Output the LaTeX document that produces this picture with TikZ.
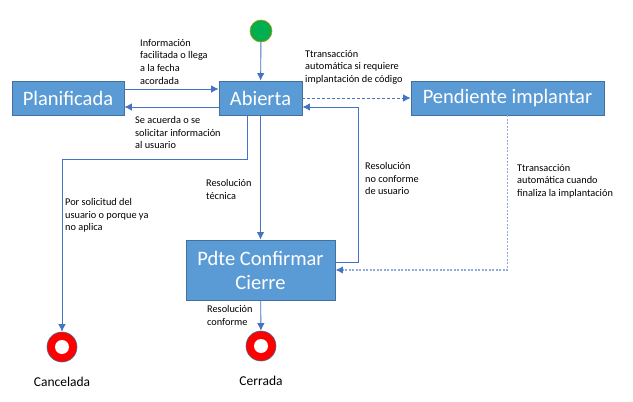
\documentclass[tikz,border=0pt]{standalone}
\usepackage{fontspec}
\setmainfont{Carlito}
\usepackage{xcolor}
\usepackage{tikz}
\usetikzlibrary{arrows.meta, positioning}
\definecolor{lineblue}{HTML}{4472C4}
\definecolor{boxblue}{HTML}{5B9BD5}
\definecolor{boxedge}{HTML}{41719C}
\definecolor{dotblue}{HTML}{8FAADC}
\definecolor{startgreen}{HTML}{00B050}
\definecolor{startedge}{HTML}{BF9000}

\tikzset{
  state/.style={draw=boxedge, fill=boxblue, text=white, line width=0.8pt, inner sep=0pt, align=center, font=\fontsize{20.5}{24}\selectfont},
  flow/.style={draw=lineblue, line width=0.9pt, -{Latex[length=7.5pt, width=7.5pt, color=lineblue]}},
  lbl/.style={anchor=north west, inner sep=0pt, align=left, font=\fontsize{10.3}{12.7}\selectfont},
  final/.style={circle, fill=red, draw=boxedge, line width=0.6pt, minimum size=30pt, inner sep=0pt,
    path picture={\fill[white] (path picture bounding box.center) circle (7pt);}},
  finallbl/.style={inner sep=0pt, font=\fontsize{13.5}{16}\selectfont},
}

\begin{document}
\begin{tikzpicture}[x=1pt, y=-1pt]
  \fill[white] (0,0) rectangle (633,402);
  \useasboundingbox (0,0) rectangle (633,402);

  \node[circle, fill=startgreen, draw=startedge, line width=0.6pt, minimum size=22pt, inner sep=0pt] (start) at (261,31) {};
  \node[state, minimum width=112pt, minimum height=34pt] (plan) at (68,98) {Planificada};
  \node[state, minimum width=83pt, minimum height=34pt] (abierta) at (260.5,98) {Abierta};
  \node[state, minimum width=193pt, minimum height=34pt] (pend) at (507.5,98) {Pendiente implantar};
  \node[state, minimum width=149pt, minimum height=60pt] (pdte) at (260.5,270) {Pdte Confirmar\\Cierre};
  \node[final] (canc) at (62,347) {};
  \node[final] (cerr) at (261,346) {};
  \node[finallbl, below=15pt of canc] (canclbl) {Cancelada};
  \node[finallbl, below=15pt of cerr] (cerrlbl) {Cerrada};
  \coordinate (back) at (358,107);

  \draw[flow] (start) -- (abierta);
  \draw[flow] ([yshift=9pt]plan.east) -- ([yshift=9pt]abierta.west);
  \draw[flow] ([yshift=-9pt]abierta.west) -- ([yshift=-9pt]plan.east);
  \draw[flow, dash pattern=on 3pt off 2pt] (abierta) -- (pend);
  \draw[flow] (abierta) -- (pdte);
  \draw[flow] (pdte) -- (cerr);
  \draw[flow] ([xshift=-13.5pt]abierta.south) -- ++(0,44) -| (canc);
  \draw[flow] ([yshift=8pt]pdte.east) -| (back) -- ([yshift=-9pt]abierta.east);
  \draw[flow, draw=dotblue, line width=1.6pt, dash pattern=on 2pt off 1.5pt] (pend) |- (pdte);

  \node[lbl] (infolbl) at (140,39) {Información\\facilitada o llega\\a la fecha\\acordada};
  \node[lbl] (acuerdalbl) at (135,116) {Se acuerda o se\\solicitar información\\al usuario};
  \node[lbl] (autolbl) at (305,50) {Ttransacción\\automática si requiere\\implantación de código};
  \node[lbl] (finlbl) at (517,164) {Ttransacción\\automática cuando\\finaliza la implantación};
  \node[lbl] (noconflbl) at (365,162) {Resolución\\no conforme\\de usuario};
  \node[lbl] (tecnicalbl) at (206,179) {Resolución\\técnica};
  \node[lbl] (cancellbl) at (65,198) {Por solicitud del\\usuario o porque ya\\no aplica};
  \node[lbl] (conflbl) at (207,305) {Resolución\\conforme};
\end{tikzpicture}
\end{document}
